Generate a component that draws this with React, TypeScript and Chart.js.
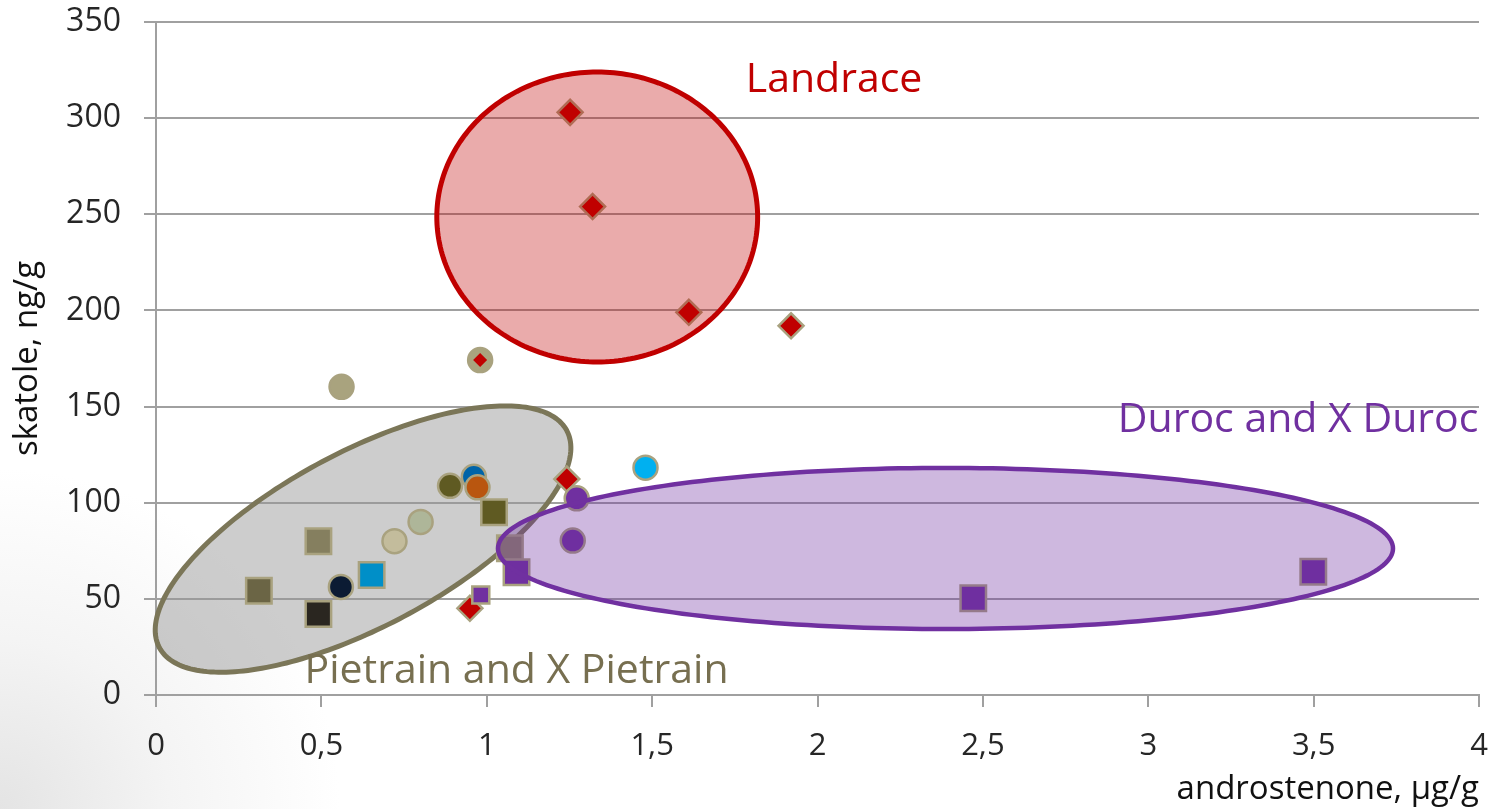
import React, { useEffect, useRef } from 'react';
import { Chart, registerables } from 'chart.js';

Chart.register(...registerables);

// ---- axis ticks ----
const X_TICK_LABELS = ['0', '0,5', '1', '1,5', '2', '2,5', '3', '3,5', '4'];
const Y_TICK_LABELS = ['0', '50', '100', '150', '200', '250', '300', '350'];
const X_TITLE = 'androstenone, µg/g';
const Y_TITLE = 'skatole, ng/g';

// ---- data (androstenone µg/g, skatole ng/g) ----
const PIETRAIN_CIRCLE_X = [0.561, 0.98, 0.889, 0.961, 0.972, 0.8, 0.721, 0.559];
const PIETRAIN_CIRCLE_Y = [160.3, 174.2, 108.8, 113.5, 108.0, 90.0, 80.0, 56.2];
const PIETRAIN_CIRCLE_COLORS = ['#A9A37E', '#A9A37E', '#5F5A22', '#0064A8', '#B9560F', '#AEB699', '#C3BC9C', '#0B1B33'];

const PIETRAIN_SQUARE_X = [1.022, 0.491, 0.652, 0.311, 0.491, 1.07];
const PIETRAIN_SQUARE_Y = [95.0, 80.0, 62.4, 54.2, 42.1, 76.3];
const PIETRAIN_SQUARE_COLORS = ['#5F5A22', '#857F5F', '#008FC8', '#6B6545', '#2A2620', '#8E8468'];

const OTHER_CIRCLE_X = [1.48];
const OTHER_CIRCLE_Y = [118.2];
const OTHER_CIRCLE_COLORS = ['#00B0F0'];

const LANDRACE_X = [1.252, 1.32, 1.611, 1.92, 1.242, 0.949];
const LANDRACE_Y = [303.0, 254.0, 199.0, 192.0, 112.3, 45.1];
const LANDRACE_SMALL_X = [0.98];
const LANDRACE_SMALL_Y = [174.2];

const DUROC_CIRCLE_X = [1.272, 1.26];
const DUROC_CIRCLE_Y = [102.3, 80.3];
const DUROC_SQUARE_X = [1.09, 2.471, 3.499];
const DUROC_SQUARE_Y = [63.8, 50.3, 64.1];
const DUROC_SMALL_SQUARE_X = [0.982];
const DUROC_SMALL_SQUARE_Y = [52.0];

// ---- group ellipses (centre and conjugate half-axis vectors, in data units) ----
const GROUP_ELLIPSES = [
  { layer: 'under', cx: 0.626, cy: 81.1, ux: 0.616, uy: 56.4, vx: -0.124, vy: 40.2, fill: 'rgba(150,150,150,0.48)', stroke: '#7B7658', width: 5 },
  { layer: 'over', cx: 1.334, cy: 248.6, ux: 0.485, uy: 0, vx: 0, vy: 75.4, fill: 'rgba(192,0,0,0.33)', stroke: '#C00000', width: 5 },
  { layer: 'over', cx: 2.387, cy: 76.2, ux: 1.353, uy: 0, vx: 0, vy: 41.9, fill: 'rgba(112,48,160,0.34)', stroke: '#7030A0', width: 4.5 },
];

// ---- group labels (x centre, baseline y, in data units) ----
const GROUP_LABELS = [
  { text: 'Landrace', x: 2.05, y: 313.7, color: '#C00000' },
  { text: 'Duroc and X Duroc', x: 3.453, y: 136.9, color: '#7030A0' },
  { text: 'Pietrain and X Pietrain', x: 1.09, y: 6.1, color: '#776F50' },
];

const FONT = "'Open Sans', 'Noto Sans', sans-serif";
const MARKER_BORDER = '#A9A27F';

const zip = (xs: number[], ys: number[]) => xs.map((x, i) => ({ x, y: ys[i] }));

function drawEllipses(chart: any, layer: string) {
  const ctx = chart.ctx;
  const xs = chart.scales.x;
  const ys = chart.scales.y;
  GROUP_ELLIPSES.filter((e) => e.layer === layer).forEach((e) => {
    const c0 = xs.getPixelForValue(e.cx);
    const c1 = ys.getPixelForValue(e.cy);
    const u0 = xs.getPixelForValue(e.cx + e.ux) - c0;
    const u1 = ys.getPixelForValue(e.cy + e.uy) - c1;
    const v0 = xs.getPixelForValue(e.cx + e.vx) - c0;
    const v1 = ys.getPixelForValue(e.cy + e.vy) - c1;
    ctx.save();
    ctx.beginPath();
    const n = 240;
    for (let i = 0; i <= n; i++) {
      const t = (i / n) * Math.PI * 2;
      const px = c0 + u0 * Math.cos(t) + v0 * Math.sin(t);
      const py = c1 + u1 * Math.cos(t) + v1 * Math.sin(t);
      if (i === 0) ctx.moveTo(px, py);
      else ctx.lineTo(px, py);
    }
    ctx.closePath();
    ctx.fillStyle = e.fill;
    ctx.fill();
    ctx.lineWidth = e.width;
    ctx.strokeStyle = e.stroke;
    ctx.stroke();
    ctx.restore();
  });
}

function drawLabels(chart: any) {
  const ctx = chart.ctx;
  const xs = chart.scales.x;
  const ys = chart.scales.y;
  ctx.save();
  ctx.font = `41px ${FONT}`;
  ctx.textAlign = 'center';
  ctx.textBaseline = 'alphabetic';
  GROUP_LABELS.forEach((l) => {
    ctx.fillStyle = l.color;
    ctx.fillText(l.text, xs.getPixelForValue(l.x), ys.getPixelForValue(l.y));
  });
  ctx.restore();
}

const groupPlugin = {
  id: 'groupShapes',
  beforeDatasetsDraw(chart: any) {
    drawEllipses(chart, 'under');
  },
  afterDatasetsDraw(chart: any) {
    drawEllipses(chart, 'over');
    drawLabels(chart);
  },
};

const resetPadding = (s: any) => {
  s.paddingTop = 0;
  s.paddingBottom = 0;
  s.paddingLeft = 0;
  s.paddingRight = 0;
};

export default function App() {
  const canvasRef = useRef<HTMLCanvasElement | null>(null);

  useEffect(() => {
    if (!canvasRef.current) return;
    const pointBase = {
      borderColor: MARKER_BORDER,
      pointBorderColor: MARKER_BORDER,
      pointBorderWidth: 2.5,
      showLine: false,
    };
    const chart = new Chart(canvasRef.current, {
      type: 'scatter',
      data: {
        datasets: [
          { ...pointBase, label: 'Duroc small', data: zip(DUROC_SMALL_SQUARE_X, DUROC_SMALL_SQUARE_Y), pointStyle: 'rect', pointRadius: 12, pointBackgroundColor: '#7030A0', order: 1 },
          { ...pointBase, label: 'Duroc squares', data: zip(DUROC_SQUARE_X, DUROC_SQUARE_Y), pointStyle: 'rect', pointRadius: 18, pointBackgroundColor: '#7030A0', order: 2 },
          { ...pointBase, label: 'Duroc circles', data: zip(DUROC_CIRCLE_X, DUROC_CIRCLE_Y), pointStyle: 'circle', pointRadius: 12, pointBackgroundColor: '#7030A0', order: 3 },
          { ...pointBase, label: 'Landrace small', data: zip(LANDRACE_SMALL_X, LANDRACE_SMALL_Y), pointStyle: 'rectRot', pointRadius: 7, pointBorderWidth: 0, pointBackgroundColor: '#C00000', order: 4 },
          { ...pointBase, label: 'Landrace', data: zip(LANDRACE_X, LANDRACE_Y), pointStyle: 'rectRot', pointRadius: 12.5, pointBackgroundColor: '#C00000', order: 5 },
          { ...pointBase, label: 'Other', data: zip(OTHER_CIRCLE_X, OTHER_CIRCLE_Y), pointStyle: 'circle', pointRadius: 12, pointBackgroundColor: OTHER_CIRCLE_COLORS, order: 6 },
          { ...pointBase, label: 'Pietrain circles', data: zip(PIETRAIN_CIRCLE_X, PIETRAIN_CIRCLE_Y), pointStyle: 'circle', pointRadius: 12, pointBackgroundColor: PIETRAIN_CIRCLE_COLORS, order: 7 },
          { ...pointBase, label: 'Pietrain squares', data: zip(PIETRAIN_SQUARE_X, PIETRAIN_SQUARE_Y), pointStyle: 'rect', pointRadius: 18, pointBackgroundColor: PIETRAIN_SQUARE_COLORS, order: 8 },
        ] as any,
      },
      options: {
        animation: false,
        responsive: true,
        maintainAspectRatio: false,
        layout: { autoPadding: false, padding: { top: 22, right: 15, left: 0, bottom: 0 } },
        plugins: {
          legend: { display: false },
          tooltip: { enabled: false },
        },
        elements: { point: { hoverRadius: 12 } },
        scales: {
          x: {
            type: 'linear',
            min: 0,
            max: 4,
            afterFit: (s: any) => { s.height = 114; resetPadding(s); },
            ticks: {
              stepSize: 0.5,
              color: '#262626',
              font: { family: FONT, size: 31 },
              padding: 21,
              maxRotation: 0,
              callback: (_v: any, i: number) => X_TICK_LABELS[i],
            },
            grid: { drawOnChartArea: false, drawTicks: true, tickLength: 12, color: '#A0A0A0', lineWidth: 2 },
            border: { display: true, color: '#A0A0A0', width: 2 },
            title: {
              display: true,
              text: X_TITLE,
              align: 'end',
              color: '#111111',
              font: { family: FONT, size: 33 },
              padding: { top: 0, bottom: 0 },
            },
          },
          y: {
            type: 'linear',
            min: 0,
            max: 350,
            afterFit: (s: any) => { s.width = 156; resetPadding(s); },
            ticks: {
              stepSize: 50,
              color: '#262626',
              font: { family: FONT, size: 32 },
              padding: 23,
              callback: (_v: any, i: number) => Y_TICK_LABELS[i],
            },
            grid: { drawOnChartArea: true, drawTicks: true, tickLength: 12, color: '#A0A0A0', lineWidth: 2 },
            border: { display: true, color: '#A0A0A0', width: 2 },
            title: {
              display: true,
              text: Y_TITLE,
              color: '#111111',
              font: { family: FONT, size: 33 },
              padding: { top: 8, bottom: 0 },
            },
          },
        },
      } as any,
      plugins: [groupPlugin],
    });
    return () => chart.destroy();
  }, []);

  return (
    <div
      style={{
        position: 'absolute',
        left: 0,
        top: 0,
        width: 1494,
        height: 809,
        background: 'radial-gradient(circle at 0% 100%, #e4e4e4 0px, #f4f4f4 170px, #ffffff 340px)',
      }}
    >
      <canvas ref={canvasRef} />
    </div>
  );
}
